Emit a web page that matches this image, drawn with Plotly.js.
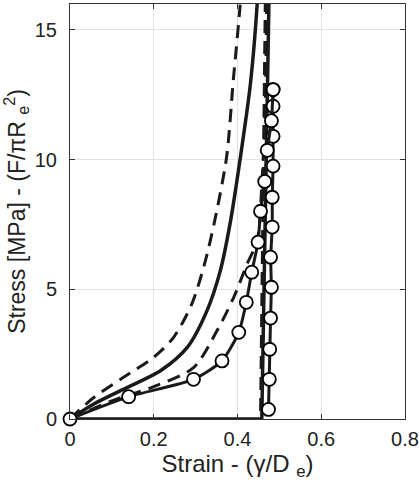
<!DOCTYPE html>
<html>
<head>
<meta charset="utf-8">
<script src="https://cdn.plot.ly/plotly-3.0.1.min.js"></script>
<style>html,body{margin:0;padding:0;background:#fff;}#chart{width:419px;height:490px;}</style>
</head>
<body>
<div id="chart"></div>
<script>
// Model A (dashed, leftmost): loading / unloading
var aLoadStrain = [0, 0.056, 0.127, 0.199, 0.247, 0.29, 0.32, 0.345, 0.374, 0.39, 0.406, 0.41];
var aLoadStress = [0, 0.82, 1.6, 2.37, 3.14, 4.4, 5.9, 7.6, 10.1, 13.07, 15.9, 17];
var aUnloadStrain = [0.467, 0.455];
var aUnloadStress = [17, 0];
// Model B (solid, middle)
var bLoadStrain = [0, 0.056, 0.136, 0.216, 0.28, 0.327, 0.359, 0.383, 0.407, 0.431, 0.447, 0.45];
var bLoadStress = [0, 0.57, 1.21, 1.86, 2.76, 4.17, 5.72, 7.6, 10.1, 12.94, 16, 17];
var bUnloadStrain = [0.476, 0.458, 0];
var bUnloadStress = [17, 0, 0];
// Model C (dashed, near experiment)
var cLoadStrain = [0, 0.1, 0.2, 0.295, 0.351, 0.391, 0.423, 0.447, 0.458, 0.466, 0.47];
var cLoadStress = [0, 0.7, 1.25, 1.98, 3.4, 4.69, 5.98, 6.88, 9, 12, 17];
var cUnloadStrain = [0.472, 0.457];
var cUnloadStress = [17, 0];
// Experiment (solid with circles)
var eLoadStrain = [0, 0.14, 0.295, 0.363, 0.403, 0.421, 0.434, 0.449, 0.455, 0.465, 0.471, 0.481, 0.485];
var eLoadStress = [0, 0.86, 1.53, 2.24, 3.34, 4.5, 5.66, 6.82, 8.01, 9.16, 10.36, 11.5, 12.7];
var eUnloadStrain = [0.485, 0.485, 0.485, 0.485, 0.483, 0.483, 0.479, 0.481, 0.479, 0.477, 0.476, 0.474];
var eUnloadStress = [12.7, 12.06, 10.9, 9.75, 8.55, 7.4, 6.24, 5.08, 3.89, 2.69, 1.53, 0.37];
var xTicks = [0, 0.2, 0.4, 0.6, 0.8];
var xTickText = ['0', '0.2', '0.4', '0.6', '0.8'];
var yTicks = [0, 5, 10, 15];
var yTickText = ['0', '5', '10', '15'];

var col = '#1a1a1a';
var dashLine = {color: col, width: 3, dash: '13px,8px'};
var solidLine = {color: col, width: 3.5};
var expMarker = {symbol: 'circle', size: 13, color: '#fff', line: {color: '#000', width: 1.8}};
var traces = [
  {x: aLoadStrain, y: aLoadStress, mode: 'lines', line: Object.assign({shape: 'spline', smoothing: 0.8}, dashLine)},
  {x: aUnloadStrain, y: aUnloadStress, mode: 'lines', line: dashLine},
  {x: cLoadStrain, y: cLoadStress, mode: 'lines', line: Object.assign({shape: 'spline', smoothing: 0.8}, dashLine)},
  {x: cUnloadStrain, y: cUnloadStress, mode: 'lines', line: dashLine},
  {x: bLoadStrain, y: bLoadStress, mode: 'lines', line: Object.assign({shape: 'spline', smoothing: 0.8}, solidLine)},
  {x: bUnloadStrain, y: bUnloadStress, mode: 'lines', line: solidLine},
  {x: eUnloadStrain, y: eUnloadStress, mode: 'lines+markers', cliponaxis: false, line: {color: col, width: 3}, marker: expMarker},
  {x: eLoadStrain, y: eLoadStress, mode: 'lines+markers', cliponaxis: false, line: {color: col, width: 3, shape: 'spline', smoothing: 0.6}, marker: expMarker}
];
var layout = {
  width: 419, height: 490,
  margin: {l: 70, r: 14, t: 4, b: 71},
  paper_bgcolor: '#fff', plot_bgcolor: '#fff',
  showlegend: false,
  font: {family: 'Liberation Sans, Arial, sans-serif', color: '#222'},
  xaxis: {
    range: [0, 0.8], tickvals: xTicks, ticktext: xTickText,
    showgrid: true, gridcolor: '#e2e2e2', gridwidth: 1, zeroline: false,
    showline: true, linecolor: '#333', linewidth: 1, mirror: 'ticks',
    ticks: 'inside', ticklen: 5, tickcolor: '#333',
    tickfont: {size: 20, color: '#222'}, ticklabelstandoff: 2,
    title: {text: 'Strain - (γ/D <sub>e</sub>)', font: {size: 24, color: '#222'}, standoff: 6}
  },
  yaxis: {
    range: [0, 16], tickvals: yTicks, ticktext: yTickText,
    showgrid: true, gridcolor: '#e2e2e2', gridwidth: 1, zeroline: false,
    showline: true, linecolor: '#333', linewidth: 1, mirror: 'ticks',
    ticks: 'inside', ticklen: 5, tickcolor: '#333',
    tickfont: {size: 20, color: '#222'}, ticklabelstandoff: 8,
    title: {text: 'Stress [MPa] - (F/πR <sub>e</sub><sup>2</sup>)', font: {size: 23, color: '#222'}, standoff: 6}
  }
};
Plotly.newPlot('chart', traces, layout, {displayModeBar: false, staticPlot: true});
</script>
</body>
</html>
